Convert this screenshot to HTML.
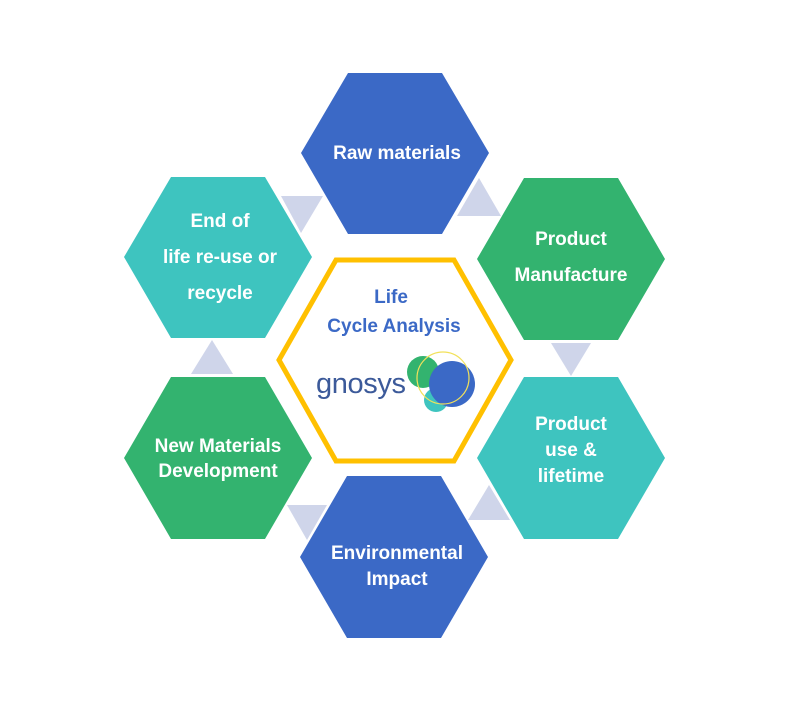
<!DOCTYPE html>
<html><head><meta charset="utf-8"><style>
html,body{margin:0;padding:0;background:#fff;width:795px;height:720px;overflow:hidden}
svg text{font-family:"Liberation Sans",sans-serif;font-weight:bold}
</style></head><body>
<svg width="795" height="720" viewBox="0 0 795 720" xmlns="http://www.w3.org/2000/svg">
<!-- hexes: center cx,cy ; pts cx-94,cy ; cx-47,cy-81 ; cx+47,cy-81 ; cx+94,cy ; cx+47,cy+81 ; cx-47,cy+81 -->
<polygon points="301,153 348,73 442,73 489,153 442,234 348,234" fill="#3B69C6"/>
<polygon points="477,259 524,178 618,178 665,259 618,340 524,340" fill="#33B36F"/>
<polygon points="477,458 524,377 618,377 665,458 618,539 524,539" fill="#3EC4BF"/>
<polygon points="300,557 347,476 441,476 488,557 441,638 347,638" fill="#3B69C6"/>
<polygon points="124,458 171,377 265,377 312,458 265,539 171,539" fill="#33B36F"/>
<polygon points="124,257 171,177 265,177 312,257 265,338 171,338" fill="#3EC4BF"/>
<!-- center hex -->
<polygon points="279,360 336,260 454,260 511,360 454,461 336,461" fill="#fff" stroke="#FFC000" stroke-width="5"/>
<!-- triangles -->
<g fill="#CFD5EA">
<polygon points="479,178 457,216 501,216"/>
<polygon points="281,196 323,196 301,233"/>
<polygon points="551,343 591,343 571,376"/>
<polygon points="489,485 468,520 510,520"/>
<polygon points="287,505 327,505 307,540"/>
<polygon points="212,340 191,374 233,374"/>
</g>
<g fill="#fff" font-size="19" text-anchor="middle">
<text x="397" y="159">Raw materials</text>
<text x="571" y="245">Product</text>
<text x="571" y="281">Manufacture</text>
<text x="571" y="430">Product</text>
<text x="571" y="456">use &amp;</text>
<text x="571" y="482">lifetime</text>
<text x="397" y="559">Environmental</text>
<text x="397" y="585">Impact</text>
<text x="218" y="452">New Materials</text>
<text x="218" y="477">Development</text>
<text x="220" y="227">End of</text>
<text x="220" y="263">life re-use or</text>
<text x="220" y="299">recycle</text>
</g>
<g fill="#3B69C6" font-size="19" text-anchor="middle">
<text x="391" y="303">Life</text>
<text x="394" y="332">Cycle Analysis</text>
</g>
<text x="316" y="393" font-size="29" fill="#3C5A9A" style="font-weight:normal" textLength="90">gnosys</text>
<circle cx="423" cy="372" r="16" fill="#33B36F"/>
<circle cx="436" cy="400" r="12" fill="#3EC4BF"/>
<circle cx="452" cy="384" r="23" fill="#3B69C6"/>
<circle cx="443" cy="378" r="26" fill="none" stroke="#F2E15A" stroke-width="1.2"/>
</svg>
</body></html>
